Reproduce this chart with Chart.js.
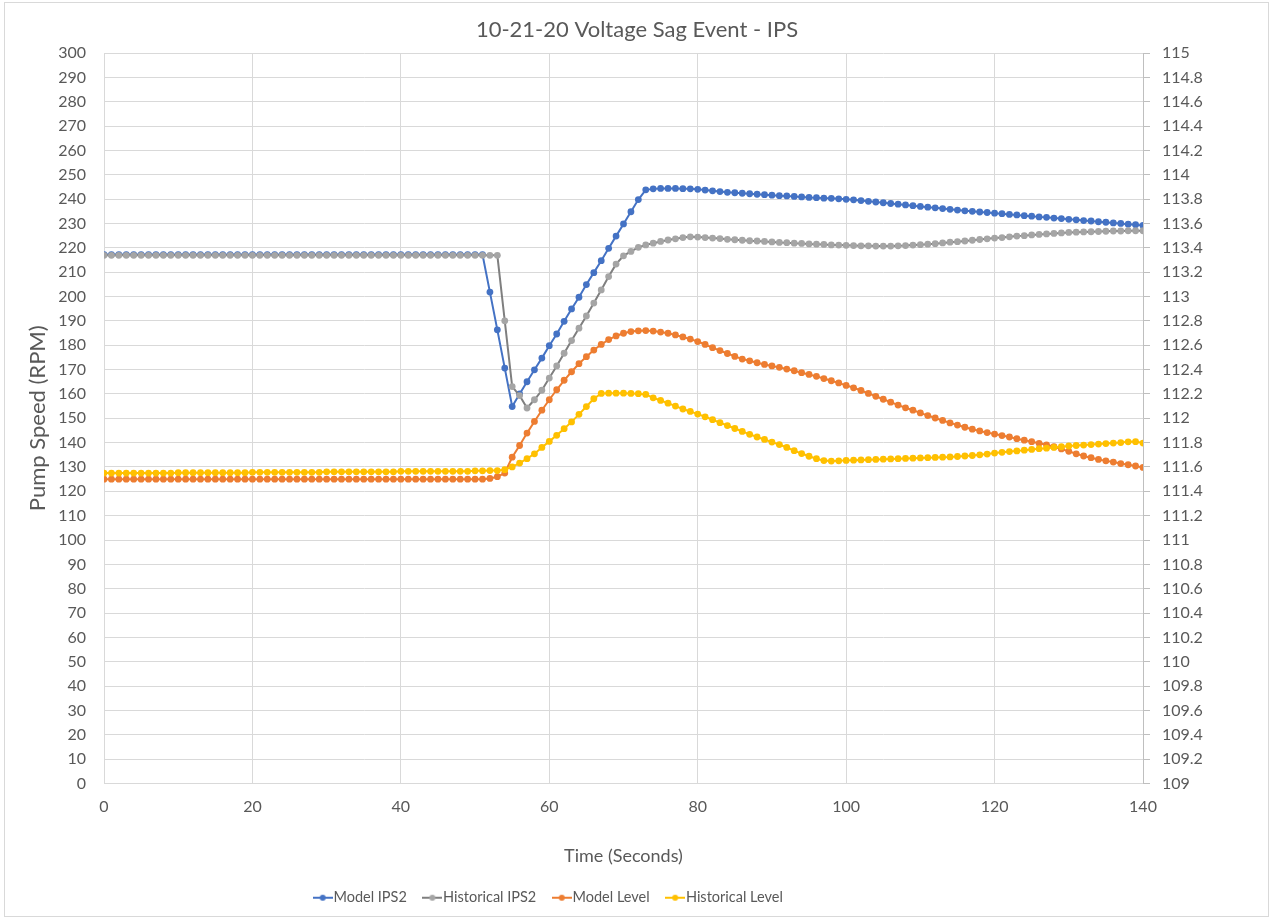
<!DOCTYPE html>
<html>
<head>
<meta charset="utf-8">
<title>10-21-20 Voltage Sag Event - IPS</title>
<script src="https://cdn.jsdelivr.net/npm/chart.js@4.4.1/dist/chart.umd.min.js"></script>
<style>
	body { margin: 0; background: #fff; }
	#grafico { display: block; }
</style>
</head>
<body>
<canvas id="grafico" width="1274" height="919"></canvas>
<script>
// tempo in secondi (un campione al secondo)
const secondi = [
	0, 1, 2, 3, 4, 5, 6, 7, 8, 9, 10, 11, 12, 13, 14, 15, 16, 17, 18, 19,
	20, 21, 22, 23, 24, 25, 26, 27, 28, 29, 30, 31, 32, 33, 34, 35, 36, 37, 38, 39,
	40, 41, 42, 43, 44, 45, 46, 47, 48, 49, 50, 51, 52, 53, 54, 55, 56, 57, 58, 59,
	60, 61, 62, 63, 64, 65, 66, 67, 68, 69, 70, 71, 72, 73, 74, 75, 76, 77, 78, 79,
	80, 81, 82, 83, 84, 85, 86, 87, 88, 89, 90, 91, 92, 93, 94, 95, 96, 97, 98, 99,
	100, 101, 102, 103, 104, 105, 106, 107, 108, 109, 110, 111, 112, 113, 114, 115, 116, 117, 118, 119,
	120, 121, 122, 123, 124, 125, 126, 127, 128, 129, 130, 131, 132, 133, 134, 135, 136, 137, 138, 139,
	140
];

// velocita pompa (RPM) - asse sinistro
const modelIPS2 = [
	217.2, 217.2, 217.2, 217.2, 217.2, 217.2, 217.2, 217.2, 217.2, 217.2,
	217.2, 217.2, 217.2, 217.2, 217.2, 217.2, 217.2, 217.2, 217.2, 217.2,
	217.2, 217.2, 217.2, 217.2, 217.2, 217.2, 217.2, 217.2, 217.2, 217.2,
	217.2, 217.2, 217.2, 217.2, 217.2, 217.2, 217.2, 217.2, 217.2, 217.2,
	217.2, 217.2, 217.2, 217.2, 217.2, 217.2, 217.2, 217.2, 217.2, 217.2,
	217.2, 217.2, 201.8, 186.3, 170.6, 154.8, 160.0, 165.0, 169.9, 174.7,
	179.8, 184.6, 189.8, 194.9, 199.7, 204.9, 209.8, 214.7, 219.8, 224.8,
	229.8, 234.8, 239.8, 243.8, 244.2, 244.4, 244.4, 244.4, 244.3, 244.2,
	244.0, 243.7, 243.4, 243.1, 242.8, 242.6, 242.4, 242.2, 242.0, 241.8,
	241.6, 241.4, 241.3, 241.1, 240.9, 240.7, 240.6, 240.4, 240.3, 240.1,
	239.9, 239.7, 239.4, 239.1, 238.8, 238.5, 238.2, 237.9, 237.6, 237.3,
	237.0, 236.7, 236.4, 236.1, 235.8, 235.5, 235.2, 235.0, 234.7, 234.5,
	234.2, 234.0, 233.7, 233.5, 233.2, 233.0, 232.7, 232.5, 232.2, 232.0,
	231.7, 231.5, 231.2, 231.0, 230.7, 230.5, 230.2, 230.0, 229.7, 229.5,
	229.2
];
const historicalIPS2 = [
	216.9, 216.9, 216.9, 216.9, 216.9, 216.9, 216.9, 216.9, 216.9, 216.9,
	216.9, 216.9, 216.9, 216.9, 216.9, 216.9, 216.9, 216.9, 216.9, 216.9,
	216.9, 216.9, 216.9, 216.9, 216.9, 216.9, 216.9, 216.9, 216.9, 216.9,
	216.9, 216.9, 216.9, 216.9, 216.9, 216.9, 216.9, 216.9, 216.9, 216.9,
	216.9, 216.9, 216.9, 216.9, 216.9, 216.9, 216.9, 216.9, 216.9, 216.9,
	216.9, 216.9, 216.9, 216.9, 190.0, 163.0, 159.3, 154.2, 157.6, 161.5,
	166.5, 171.5, 176.7, 181.9, 187.0, 192.0, 197.3, 202.7, 208.2, 213.3,
	216.7, 218.5, 220.2, 221.2, 221.9, 222.6, 223.2, 223.7, 224.2, 224.5,
	224.4, 224.2, 224.0, 223.8, 223.5, 223.3, 223.1, 222.9, 222.8, 222.6,
	222.4, 222.2, 222.1, 221.9, 221.8, 221.6, 221.5, 221.4, 221.2, 221.1,
	221.0, 220.9, 220.8, 220.8, 220.7, 220.7, 220.7, 220.8, 220.9, 221.1,
	221.3, 221.5, 221.7, 222.0, 222.3, 222.5, 222.8, 223.1, 223.4, 223.7,
	224.0, 224.2, 224.5, 224.8, 225.0, 225.3, 225.5, 225.7, 225.9, 226.1,
	226.3, 226.4, 226.5, 226.6, 226.7, 226.8, 226.9, 226.9, 227.0, 227.0,
	227.0
];

// livello - asse destro
const modelLevel = [
	111.5, 111.5, 111.5, 111.5, 111.5, 111.5, 111.5, 111.5, 111.5, 111.5,
	111.5, 111.5, 111.5, 111.5, 111.5, 111.5, 111.5, 111.5, 111.5, 111.5,
	111.5, 111.5, 111.5, 111.5, 111.5, 111.5, 111.5, 111.5, 111.5, 111.5,
	111.5, 111.5, 111.5, 111.5, 111.5, 111.5, 111.5, 111.5, 111.5, 111.5,
	111.5, 111.5, 111.5, 111.5, 111.5, 111.5, 111.5, 111.5, 111.5, 111.5,
	111.5, 111.5, 111.506, 111.52, 111.55, 111.68, 111.776, 111.878, 111.974, 112.066,
	112.152, 112.234, 112.312, 112.382, 112.448, 112.506, 112.56, 112.606, 112.646, 112.676,
	112.698, 112.712, 112.718, 112.72, 112.716, 112.708, 112.698, 112.684, 112.668, 112.65,
	112.63, 112.606, 112.58, 112.556, 112.532, 112.508, 112.486, 112.472, 112.456, 112.442,
	112.43, 112.418, 112.404, 112.39, 112.374, 112.36, 112.344, 112.326, 112.308, 112.29,
	112.27, 112.25, 112.228, 112.204, 112.18, 112.156, 112.132, 112.108, 112.086, 112.066,
	112.044, 112.022, 112.002, 111.982, 111.962, 111.944, 111.926, 111.91, 111.896, 111.882,
	111.87, 111.858, 111.846, 111.832, 111.82, 111.808, 111.794, 111.782, 111.766, 111.748,
	111.728, 111.708, 111.69, 111.676, 111.662, 111.65, 111.64, 111.628, 111.618, 111.608,
	111.596
];
const historicalLevel = [
	111.55, 111.55, 111.55, 111.55, 111.55, 111.55, 111.55, 111.55, 111.55, 111.55,
	111.553, 111.553, 111.553, 111.553, 111.553, 111.553, 111.553, 111.553, 111.553, 111.553,
	111.556, 111.556, 111.556, 111.556, 111.556, 111.556, 111.556, 111.556, 111.556, 111.556,
	111.56, 111.56, 111.56, 111.56, 111.56, 111.56, 111.56, 111.56, 111.56, 111.56,
	111.564, 111.564, 111.564, 111.564, 111.564, 111.564, 111.564, 111.564, 111.564, 111.564,
	111.568, 111.568, 111.57, 111.57, 111.578, 111.6, 111.632, 111.668, 111.708, 111.76,
	111.81, 111.86, 111.914, 111.97, 112.032, 112.096, 112.16, 112.204, 112.206, 112.206,
	112.206, 112.204, 112.202, 112.196, 112.168, 112.146, 112.124, 112.1, 112.076, 112.056,
	112.034, 112.012, 111.988, 111.964, 111.94, 111.916, 111.892, 111.868, 111.846, 111.826,
	111.804, 111.784, 111.76, 111.734, 111.71, 111.688, 111.668, 111.652, 111.648, 111.65,
	111.654, 111.656, 111.658, 111.66, 111.662, 111.664, 111.666, 111.668, 111.67, 111.672,
	111.674, 111.676, 111.678, 111.68, 111.682, 111.686, 111.69, 111.694, 111.7, 111.706,
	111.714, 111.72, 111.726, 111.732, 111.738, 111.744, 111.75, 111.754, 111.76, 111.766,
	111.772, 111.776, 111.78, 111.784, 111.788, 111.792, 111.796, 111.8, 111.806, 111.808,
	111.796
];

const GRIGIO_TESTO = "#595959";
const GRIGIO_GRIGLIA = "#d9d9d9";
const FONT = "Lato, 'Liberation Sans', sans-serif";

window.onload = function () {
	let canvas = document.getElementById("grafico");

	let serie = [
		{ label: "Model IPS2", dati: modelIPS2, linea: "#4472C4", punto: "#4472C4", asse: "y" },
		{ label: "Historical IPS2", dati: historicalIPS2, linea: "#7F7F7F", punto: "#A5A5A5", asse: "y" },
		{ label: "Model Level", dati: modelLevel, linea: "#ED7D31", punto: "#ED7D31", asse: "y1" },
		{ label: "Historical Level", dati: historicalLevel, linea: "#FFC000", punto: "#FFC000", asse: "y1" }
	];

	let datasets = serie.map((s, i) => ({
		label: s.label,
		data: secondi.map((t, j) => ({ x: t, y: s.dati[j] })),
		yAxisID: s.asse,
		borderColor: s.linea,
		backgroundColor: s.punto,
		borderWidth: 2,
		pointRadius: 3.4,
		pointBorderWidth: 0,
		pointBackgroundColor: s.punto,
		pointBorderColor: s.punto,
		tension: 0,
		order: serie.length - i // l'ultima serie sta sopra, come in Excel
	}));

	// icona legenda: trattino con pallino
	let icone = serie.map(s => {
		let c = document.createElement("canvas");
		c.width = 20;
		c.height = 8;
		let g = c.getContext("2d");
		g.strokeStyle = s.linea;
		g.lineWidth = 2;
		g.beginPath();
		g.moveTo(0, 4);
		g.lineTo(20, 4);
		g.stroke();
		g.fillStyle = s.punto;
		g.beginPath();
		g.arc(10, 4, 3, 0, 2 * Math.PI);
		g.fill();
		return c;
	});

	let sfondo = {
		id: "sfondo",
		beforeDraw(chart) {
			let ctx = chart.ctx;
			ctx.save();
			ctx.fillStyle = "#fff";
			ctx.fillRect(0, 0, chart.width, chart.height);
			ctx.restore();
		},
		afterLayout(chart) {
			// in Excel la legenda non e centrata sul grafico
			chart.legend.left -= 86;
			chart.legend.right -= 86;
		},
		afterDraw(chart) {
			let ctx = chart.ctx;
			ctx.save();
			ctx.strokeStyle = GRIGIO_GRIGLIA;
			ctx.lineWidth = 1;
			ctx.strokeRect(4.5, 2.5, 1264, 914);
			ctx.restore();
		}
	};

	let config = {
		type: "line",
		data: { datasets: datasets },
		options: {
			responsive: false,
			animation: false,
			layout: { padding: { top: 0, left: 0, right: 0, bottom: 4 } },
			plugins: {
				title: {
					display: true,
					text: "10-21-20 Voltage Sag Event - IPS",
					color: GRIGIO_TESTO,
					font: { family: FONT, size: 22, weight: "normal" },
					padding: { top: 17, bottom: 9.6 }
				},
				legend: {
					position: "bottom",
					labels: {
						color: GRIGIO_TESTO,
						font: { family: FONT, size: 14.5 },
						usePointStyle: true,
						pointStyleWidth: 7,
						padding: 22,
						generateLabels: function (chart) {
							return chart.data.datasets.map((ds, i) => ({
								text: ds.label,
								pointStyle: icone[i],
								fillStyle: ds.backgroundColor,
								strokeStyle: ds.borderColor,
								lineWidth: 0,
								fontColor: GRIGIO_TESTO,
								hidden: false,
								datasetIndex: i
							}));
						}
					}
				},
				tooltip: { enabled: false }
			},
			scales: {
				x: {
					type: "linear",
					min: 0,
					max: 140,
					afterFit: (scale) => { scale.height = 85; },
					ticks: {
						stepSize: 20,
						color: GRIGIO_TESTO,
						font: { family: FONT, size: 16 },
						padding: 14
					},
					grid: { color: GRIGIO_GRIGLIA, drawTicks: false },
					border: { color: GRIGIO_GRIGLIA },
					title: {
						display: true,
						text: "Time (Seconds)",
						color: GRIGIO_TESTO,
						font: { family: FONT, size: 18 },
						padding: { top: 0, bottom: 2 }
					}
				},
				y: {
					position: "left",
					min: 0,
					max: 300,
					afterFit: (scale) => { scale.width = 104; },
					ticks: {
						stepSize: 10,
						autoSkip: false,
						color: GRIGIO_TESTO,
						font: { family: FONT, size: 16 },
						padding: 18
					},
					grid: { color: GRIGIO_GRIGLIA, drawTicks: false },
					border: { color: GRIGIO_GRIGLIA },
					title: {
						display: true,
						text: "Pump Speed (RPM)",
						color: GRIGIO_TESTO,
						font: { family: FONT, size: 22 },
						padding: { top: 25, bottom: 0 }
					}
				},
				y1: {
					position: "right",
					min: 109,
					max: 115,
					afterFit: (scale) => { scale.width = 131; },
					ticks: {
						stepSize: 0.2,
						autoSkip: false,
						color: GRIGIO_TESTO,
						font: { family: FONT, size: 16 },
						padding: 12,
						callback: (v) => parseFloat(v.toFixed(1)).toString()
					},
					grid: { drawOnChartArea: false, color: "#bfbfbf", tickLength: 7 },
					border: { color: "#bfbfbf" }
				}
			}
		},
		plugins: [sfondo]
	};

	new Chart(canvas, config);
};
</script>
</body>
</html>
